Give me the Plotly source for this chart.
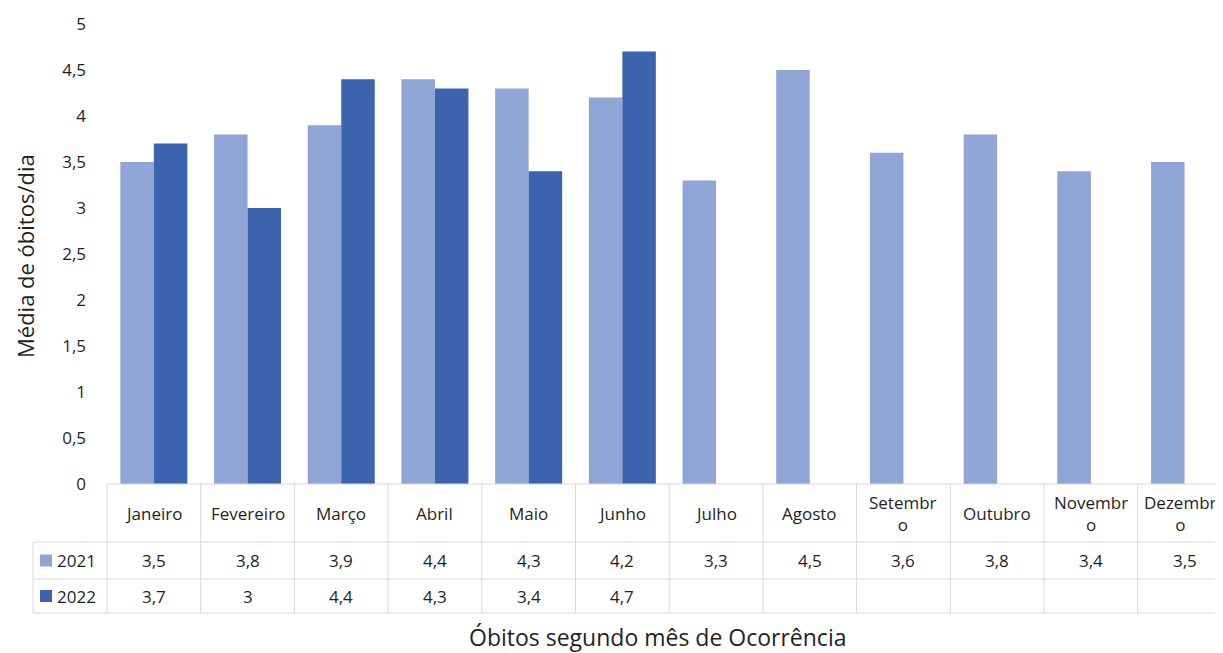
import plotly.graph_objects as go

months = ["Janeiro", "Fevereiro", "Março", "Abril", "Maio", "Junho", "Julho",
          "Agosto", "Setembro", "Outubro", "Novembro", "Dezembro"]
header_labels = ["Janeiro", "Fevereiro", "Março", "Abril", "Maio", "Junho", "Julho",
                 "Agosto", "Setembr<br>o", "Outubro", "Novembr<br>o", "Dezembr<br>o"]
series_names = ["2021", "2022"]
values_2021 = [3.5, 3.8, 3.9, 4.4, 4.3, 4.2, 3.3, 4.5, 3.6, 3.8, 3.4, 3.5]
values_2022 = [3.7, 3.0, 4.4, 4.3, 3.4, 4.7, None, None, None, None, None, None]
colors = ["#8FA5D6", "#3C64AE"]

OFF = 8  # page body margin
W, H = 1223 - OFF, 653 - OFF
ML = 107 - OFF
MT = 24 - OFF
MR = 0
MB = H - (484 - OFF)
plot_w = W - ML - MR
plot_h = H - MT - MB
col_w = 93.7
x_lo = -0.5
x_hi = x_lo + plot_w / col_w

def px_x(page_px):
    return (page_px - OFF - ML) / plot_w

def px_y(page_py):
    return (H - MB - (page_py - OFF)) / plot_h

def data_x_to_paper(v):
    return (v - x_lo) / (x_hi - x_lo)

xs = list(range(len(months)))
fig = go.Figure()
for name, vals, col in zip(series_names, [values_2021, values_2022], colors):
    fig.add_trace(go.Bar(x=xs, y=vals, name=name, marker=dict(color=col, line=dict(width=0)),
                         hovertext=months))

font_main = "'Open Sans', sans-serif"
text_col = "#1F1F1F"
grid_col = "#D9D9D9"
FS = 17
FT = 23

shapes = []
annotations = []

y_top = px_y(484)
y_r1 = px_y(542)
y_r2 = px_y(579)
y_bot = px_y(613)
x_tab_left = px_x(33)
x_end = 1.02

shapes.append(dict(type="line", xref="paper", yref="paper", x0=0, x1=x_end, y0=y_top, y1=y_top,
                   line=dict(color=grid_col, width=1)))
for yy in [y_r1, y_r2, y_bot]:
    shapes.append(dict(type="line", xref="paper", yref="paper", x0=x_tab_left, x1=x_end, y0=yy, y1=yy,
                       line=dict(color=grid_col, width=1)))
shapes.append(dict(type="line", xref="paper", yref="paper", x0=x_tab_left, x1=x_tab_left, y0=y_r1, y1=y_bot,
                   line=dict(color=grid_col, width=1)))
for k in range(len(months) + 1):
    xp = data_x_to_paper(k - 0.5)
    shapes.append(dict(type="line", xref="paper", yref="paper", x0=xp, x1=xp, y0=y_top, y1=y_bot,
                       line=dict(color=grid_col, width=1)))

for i, lab in enumerate(header_labels):
    annotations.append(dict(x=i, xref="x", y=(y_top + y_r1) / 2, yref="paper", text=lab,
                            showarrow=False, xanchor="center", yanchor="middle",
                            xshift=(-4 if i == len(header_labels) - 1 else 0),
                            font=dict(family=font_main, size=FS, color=text_col)))

def fmt(v):
    if v is None:
        return ""
    return ("%g" % v).replace(".", ",")

rows = [(y_r1, y_r2), (y_r2, y_bot)]
for (ya, yb), name, vals, col in zip(rows, series_names, [values_2021, values_2022], colors):
    yc = (ya + yb) / 2
    shapes.append(dict(type="rect", xref="paper", yref="paper", x0=px_x(40), x1=px_x(52),
                       y0=yc - 6 / plot_h, y1=yc + 6 / plot_h, fillcolor=col, line=dict(width=0)))
    annotations.append(dict(x=px_x(55), xref="paper", y=yc, yref="paper", text=name,
                            showarrow=False, xanchor="left", yanchor="middle",
                            font=dict(family=font_main, size=FS, color=text_col)))
    for i, v in enumerate(vals):
        if v is None:
            continue
        annotations.append(dict(x=i, xref="x", y=yc, yref="paper", text=fmt(v),
                                showarrow=False, xanchor="center", yanchor="middle",
                                font=dict(family=font_main, size=FS, color=text_col)))

annotations.append(dict(x=px_x(25), xref="paper", y=px_y(256), yref="paper",
                        text="Média de óbitos/dia", textangle=-90, showarrow=False,
                        xanchor="center", yanchor="middle",
                        font=dict(family=font_main, size=22, color=text_col)))
annotations.append(dict(x=px_x(657), xref="paper", y=px_y(637), yref="paper",
                        text="Óbitos segundo mês de Ocorrência", showarrow=False,
                        xanchor="center", yanchor="middle",
                        font=dict(family=font_main, size=FT, color=text_col)))

fig.update_layout(
    width=W, height=H,
    margin=dict(l=ML, r=MR, t=MT, b=MB, autoexpand=False),
    paper_bgcolor="white", plot_bgcolor="white",
    barmode="group", bargap=0.285, bargroupgap=0,
    showlegend=False,
    separators=", ",
    shapes=shapes,
    annotations=annotations,
    xaxis=dict(range=[x_lo, x_hi], showticklabels=False, showgrid=False, zeroline=False,
               showline=False, ticks=""),
    yaxis=dict(range=[0, 5], dtick=0.5, tick0=0, showgrid=False, zeroline=False, showline=False,
               ticks="", ticklabelstandoff=20,
               tickfont=dict(family=font_main, size=FS, color=text_col)),
    font=dict(family=font_main),
)

fig.write_html("out.html")
